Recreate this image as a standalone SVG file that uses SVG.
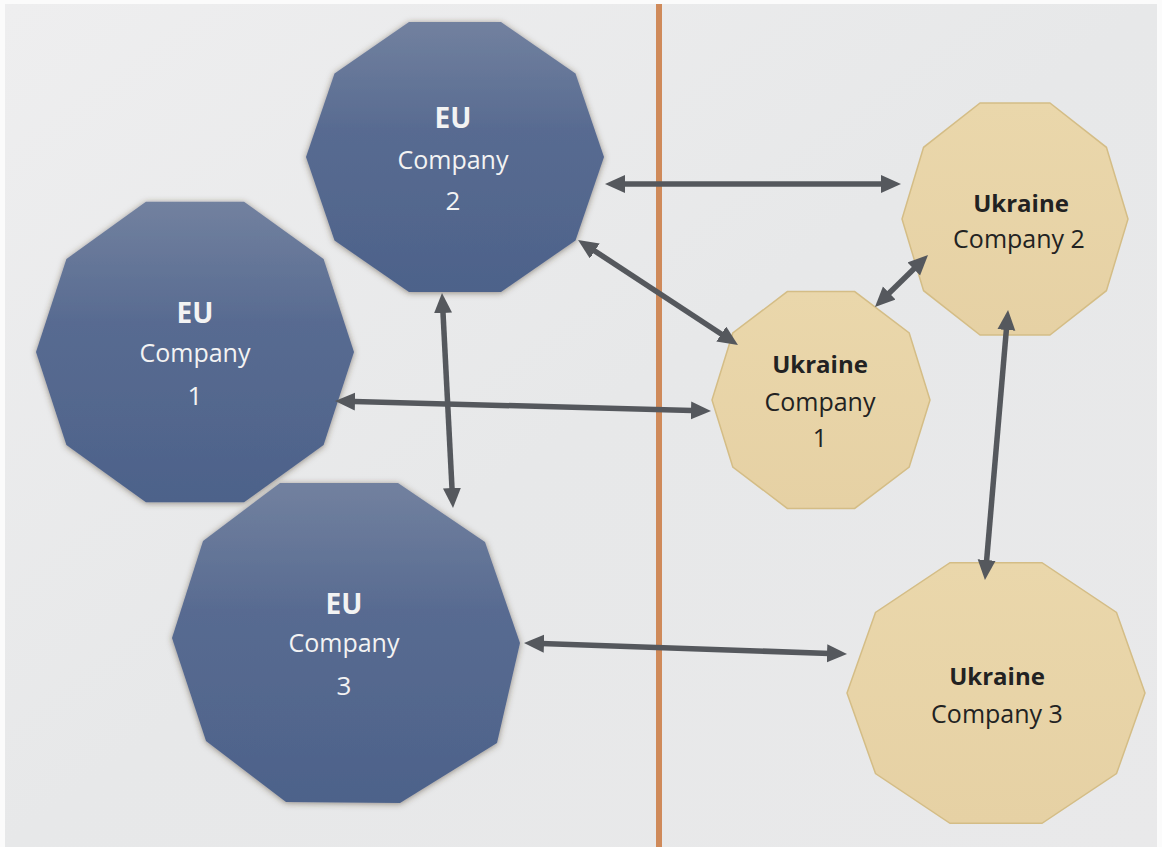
<svg xmlns="http://www.w3.org/2000/svg" width="1162" height="847" viewBox="0 0 1162 847">
  <defs>
    <linearGradient id="bg" x1="0" y1="0" x2="1" y2="1">
      <stop offset="0" stop-color="#eeeeef"/>
      <stop offset="0.5" stop-color="#e7e8e9"/>
      <stop offset="1" stop-color="#e9e9ea"/>
    </linearGradient>
    <linearGradient id="euFill" x1="0" y1="0" x2="0" y2="1">
      <stop offset="0" stop-color="#72819f"/>
      <stop offset="0.4" stop-color="#586b91"/>
      <stop offset="1" stop-color="#4d628a"/>
    </linearGradient>
    <linearGradient id="uaFill" x1="0" y1="0" x2="0" y2="1">
      <stop offset="0" stop-color="#ead7ab"/>
      <stop offset="1" stop-color="#e6d1a4"/>
    </linearGradient>
    <filter id="shadow" x="-10%" y="-10%" width="120%" height="120%">
      <feDropShadow dx="0" dy="1" stdDeviation="3" flood-color="#4a3a2a" flood-opacity="0.55"/>
    </filter>
    <marker id="head" markerUnits="userSpaceOnUse" markerWidth="22" markerHeight="20" refX="10" refY="9" orient="auto-start-reverse" viewBox="0 0 22 20">
      <path d="M0,0 L20,9 L0,18 z" fill="#55585d"/>
    </marker>
  </defs>
  <style>
    .eu { fill: url(#euFill); filter: url(#shadow); }
    .ua { fill: url(#uaFill); stroke: #d4bd86; stroke-width: 1.5; }
    .t { font-family: "Open Sans", "Liberation Sans", sans-serif; text-anchor: middle; }
    .eut { fill: #f3f3f3; }
    .uat { fill: #222222; }
    .b { font-weight: bold; }
    .conn line { stroke: #55585d; stroke-width: 5.5; marker-start: url(#head); marker-end: url(#head); }
  </style>

  <rect x="0" y="0" width="1162" height="847" fill="#fbfbfb"/>
  <rect x="5" y="4" width="1152" height="843" fill="url(#bg)"/>

  <g id="divider">
    <rect x="656" y="4" width="6" height="843" fill="#cf8a5a"/>
  </g>

  <g id="eu1">
    <polygon class="eu" points="354,352 323.6,259.1 244.1,201.7 145.9,201.7 66.4,259.1 36,352 66.4,444.9 145.9,502.3 244.1,502.3 323.6,444.9"/>
    <text class="t eut b" x="195" y="323" font-size="28">EU</text>
    <text class="t eut" x="195" y="362" font-size="25">Company</text>
    <text class="t eut" x="195" y="405" font-size="26">1</text>
  </g>

  <g id="eu2">
    <polygon class="eu" points="604,157 575.5,73.5 501,22 409,22 334.5,73.5 306,157 334.5,240.5 409,292 501,292 575.5,240.5"/>
    <text class="t eut b" x="453" y="128" font-size="28">EU</text>
    <text class="t eut" x="453" y="169" font-size="25">Company</text>
    <text class="t eut" x="453" y="210" font-size="26">2</text>
  </g>

  <g id="eu3">
    <polygon class="eu" points="520,643 485,542 398,483 280,483 203,541 172,638 206,741 286,802 400,803 497,743"/>
    <text class="t eut b" x="344" y="614" font-size="28">EU</text>
    <text class="t eut" x="344" y="652" font-size="25">Company</text>
    <text class="t eut" x="344" y="695" font-size="26">3</text>
  </g>

  <g id="ua1">
    <polygon class="ua" points="930,400 909.2,333 854.7,291.6 787.3,291.6 732.8,333 712,400 732.8,467 787.3,508.4 854.7,508.4 909.2,467"/>
    <text class="t uat b" x="820" y="373" font-size="24">Ukraine</text>
    <text class="t uat" x="820" y="411" font-size="25">Company</text>
    <text class="t uat" x="820" y="447" font-size="25">1</text>
  </g>

  <g id="ua2">
    <polygon class="ua" points="1128,219 1106.4,147.3 1049.9,103 980.1,103 923.6,147.3 902,219 923.6,290.7 980.1,335 1049.9,335 1106.4,290.7"/>
    <text class="t uat b" x="1021" y="212" font-size="24">Ukraine</text>
    <text class="t uat" x="1019" y="248" font-size="25">Company 2</text>
  </g>

  <g id="ua3">
    <polygon class="ua" points="1145,693 1116.5,612.4 1042,562.7 950,562.7 875.5,612.4 847,693 875.5,773.6 950,823.3 1042,823.3 1116.5,773.6"/>
    <text class="t uat b" x="997" y="685" font-size="24">Ukraine</text>
    <text class="t uat" x="997" y="723" font-size="25">Company 3</text>
  </g>

  <g id="connectors" class="conn">
    <line x1="615" y1="184" x2="891" y2="184"/>
    <line x1="586.4" y1="245.5" x2="729.6" y2="339.5"/>
    <line x1="882.1" y1="300" x2="920.9" y2="262"/>
    <line x1="345" y1="401.3" x2="701" y2="410.7"/>
    <line x1="442.5" y1="303" x2="452.5" y2="498"/>
    <line x1="534" y1="643.3" x2="837" y2="653.7"/>
    <line x1="1007.2" y1="320" x2="985.8" y2="570"/>
  </g>
</svg>
